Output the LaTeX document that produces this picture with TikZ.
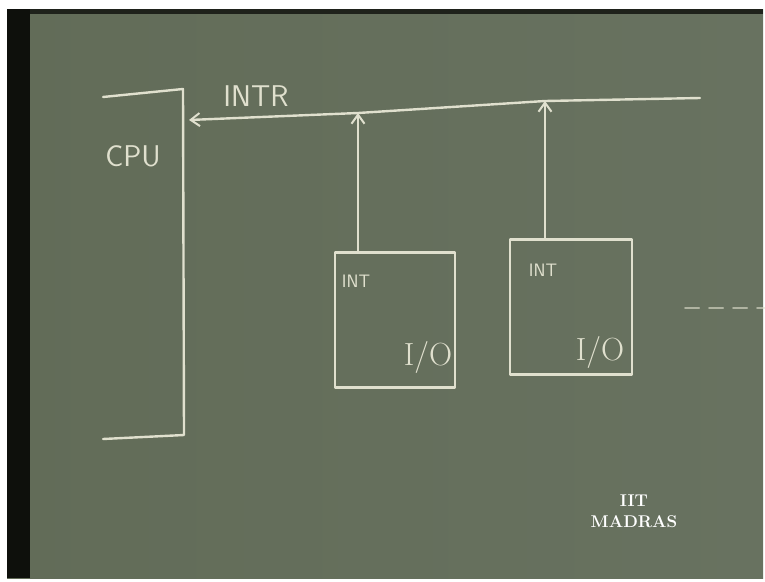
\documentclass[tikz,border=0pt]{standalone}
\usetikzlibrary{arrows.meta}
\definecolor{boardL}{RGB}{98,108,88}
\definecolor{boardM}{RGB}{124,132,114}
\definecolor{boardR}{RGB}{104,114,96}
\definecolor{chalk}{RGB}{224,224,206}
\definecolor{edge}{RGB}{14,16,12}
\tikzset{
  chalk/.style={draw=chalk, line width=2.4pt, line cap=round, line join=round},
  chalkarrow/.style={chalk, -{Straight Barb[length=9pt,width=13pt,line width=2pt]}},
  iobox/.style={chalk, inner sep=0pt},
  chalktext/.style={text=chalk, inner sep=0pt}
}
\begin{document}
\begin{tikzpicture}[x=1pt,y=-1pt]
    \useasboundingbox (0,0) rectangle (765,581);
    % board
    \fill[white] (0,0) rectangle (765,581);
    \fill[left color=boardL, middle color=boardM, right color=boardR] (7,9) rectangle (763,578);
    \fill[edge] (7,9) rectangle (30,578);
    \fill[edge!80!boardL] (30,9) rectangle (763,14);
    % CPU
    \coordinate (cpuTL) at (103,97);
    \coordinate (cpuTR) at (183,89);
    \coordinate (cpuBR) at (184,435);
    \coordinate (cpuBL) at (103,439);
    \draw[chalk] (cpuTL) -- (cpuTR) -- (cpuBR) -- (cpuBL);
    \node[chalktext, font=\sffamily\fontsize{30}{30}\selectfont] (cpu) at (133,156) {CPU};
    % I/O boxes
    \node[iobox, draw, minimum width=120pt, minimum height=135pt] (box1) at (395,320) {};
    \node[iobox, draw, minimum width=122pt, minimum height=135pt] (box2) at (571,307) {};
    \node[chalktext, font=\sffamily\fontsize{18}{18}\selectfont] (int1) at (356,281) {INT};
    \node[chalktext, font=\sffamily\fontsize{18}{18}\selectfont] (int2) at (543,270) {INT};
    \node[chalktext, font=\rmfamily\fontsize{32}{32}\selectfont] (io1) at (428,357) {I/O};
    \node[chalktext, font=\rmfamily\fontsize{32}{32}\selectfont] (io2) at (600,352) {I/O};
    % INTR line
    \coordinate (busR) at (700,98);
    \coordinate (tap2) at (545,101);
    \coordinate (tap1) at (358,113);
    \coordinate (busL) at (189,120);
    \draw[chalkarrow] (busR) -- (tap2) -- (tap1) -- (busL);
    \node[chalktext, font=\sffamily\fontsize{30}{30}\selectfont] (intr) at (256,96) {INTR};
    \draw[chalkarrow] (tap1 |- box1.north) -- (tap1);
    \draw[chalkarrow] (tap2 |- box2.north) -- (tap2);
    % more devices
    \coordinate (dashL) at (685,308);
    \coordinate (dashR) at (765,308);
    \draw[chalk, line width=2pt, dash pattern=on 14pt off 10pt, opacity=0.6] (dashL) -- (dashR);
    % logo
    \node[text=white, font=\rmfamily\bfseries\fontsize{17}{21}\selectfont, align=center] (logo) at (634,511) {IIT\\MADRAS};
\end{tikzpicture}
\end{document}
